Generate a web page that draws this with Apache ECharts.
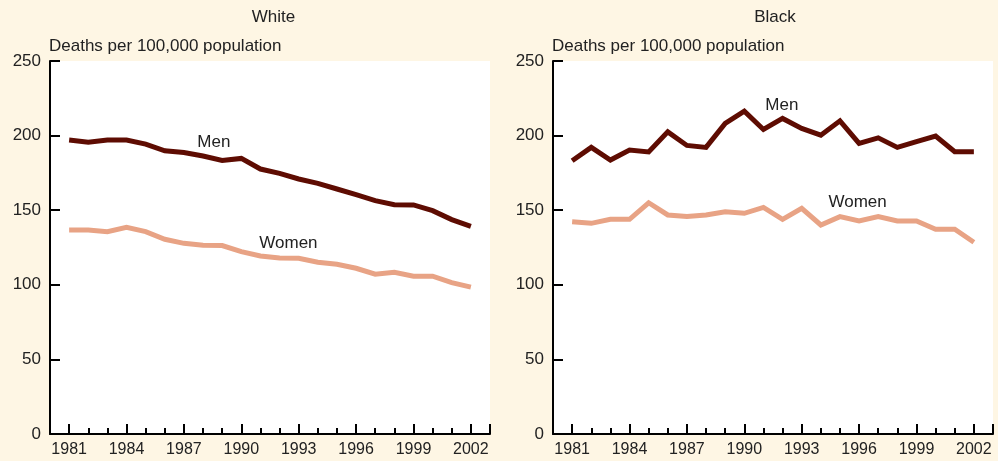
<!DOCTYPE html>
<html>
<head>
<meta charset="utf-8">
<script src="https://cdn.jsdelivr.net/npm/echarts@6/dist/echarts.min.js"></script>
<style>
html,body{margin:0;padding:0;background:#FEF6E4;}
#c{width:998px;height:461px;}
</style>
</head>
<body>
<div id="c"></div>
<script>
const years = [1981,1982,1983,1984,1985,1986,1987,1988,1989,1990,1991,1992,1993,1994,1995,1996,1997,1998,1999,2000,2001,2002];
const whiteMen   = [197,195.6,197,197,194.3,189.8,188.7,186.3,183.4,184.7,177.6,174.7,170.9,168,164.2,160.4,156.4,153.7,153.5,149.7,143.7,139.2];
const whiteWomen = [136.7,136.7,135.6,138.5,135.6,130.5,127.8,126.5,126.3,122.2,119.3,118,117.8,115.1,113.8,111.1,107.1,108.4,105.8,105.8,101.5,98.4];
const blackMen   = [183.1,192.1,183.6,190.3,189,202.5,193.4,192.1,208.2,216.4,204.1,211.5,204.8,200.3,209.9,194.8,198.5,192.1,195.9,199.7,189.2,189.2];
const blackWomen = [142.3,141.2,143.9,143.9,155,146.8,145.7,146.8,149,147.9,151.9,143.9,151.3,140.1,145.7,142.8,145.7,142.8,142.8,137.2,137.2,128.5];
const panelTitles = ['White','Black'];
const yTicks = [0,50,100,150,200,250];
const yAxisName = 'Deaths per 100,000 population';
const seriesNames = ['Men','Women'];
// label anchors in data coordinates [year, value] for each panel
const labelAnchors = [
  {men:[1987.7,195.6], women:[1990.94,127.9]},
  {men:[1991.1,220.4], women:[1994.4,155.4]}
];

const xMin = years[0]-1, xMax = years[years.length-1]+1;
const allYears = [];
for (let y = xMin; y <= xMax; y++) allYears.push(String(y));
const isMajor = y => (y >= years[0] && (y - years[0]) % 3 === 0) || y === xMax;

const FONT = 'Liberation Sans, Arial, Helvetica, sans-serif';
const TXT = '#222222';
const MEN = '#5E0C02';
const WOMEN = '#E8A385';

const grids = [
  {left:50, top:61, width:440, height:373, backgroundColor:'#FFFFFF', show:true, borderWidth:0},
  {left:553, top:61, width:440, height:373, backgroundColor:'#FFFFFF', show:true, borderWidth:0}
];

const xAxes = [], yAxes = [];
[0,1].forEach(i => {
  xAxes.push({
    type:'value', gridIndex:i, min:xMin, max:xMax, interval:1,
    axisLine:{show:true, onZero:false, lineStyle:{color:'#000', width:2}},
    axisTick:{show:true, inside:true, length:6, lineStyle:{color:'#000', width:2}},
    splitLine:{show:false},
    axisLabel:{
      margin:8, fontSize:16, color:TXT, fontFamily:FONT,
      formatter: v => (v >= years[0] && v <= years[years.length-1] && (v - years[0]) % 3 === 0) ? String(v) : ''
    }
  });
  xAxes.push({
    type:'category', gridIndex:i, data:allYears, boundaryGap:false, position:'bottom',
    axisLine:{show:false},
    axisLabel:{show:false},
    splitLine:{show:false},
    axisTick:{show:true, inside:true, length:10, lineStyle:{color:'#000', width:2},
      interval:(idx, val) => isMajor(Number(val))}
  });
  yAxes.push({
    type:'value', gridIndex:i, min:yTicks[0], max:yTicks[yTicks.length-1], interval:50,
    name:yAxisName, nameLocation:'end', nameGap:6,
    nameTextStyle:{align:'left', verticalAlign:'bottom', fontSize:17, color:TXT, fontFamily:FONT, padding:[0,0,0,-1]},
    axisLine:{show:true, lineStyle:{color:'#000', width:2}},
    axisTick:{show:true, inside:true, length:10, lineStyle:{color:'#000', width:2}},
    splitLine:{show:false},
    axisLabel:{margin:9, fontSize:17, color:TXT, fontFamily:FONT}
  });
});

const pair = arr => arr.map((v, k) => [years[k], v]);
const mk = (name, data, color, gi) => ({
  name, type:'line', xAxisIndex:gi*2, yAxisIndex:gi, data:pair(data),
  symbol:'none', silent:true,
  lineStyle:{color, width:5, join:'miter', cap:'butt'},
  z: name === 'Men' ? 3 : 2
});

const chart = echarts.init(document.getElementById('c'), null, {renderer:'canvas'});
chart.setOption({
  backgroundColor:'#FEF6E4',
  animation:false,
  grid:grids,
  xAxis:xAxes,
  yAxis:yAxes,
  series:[
    mk(seriesNames[0], whiteMen, MEN, 0),
    mk(seriesNames[1], whiteWomen, WOMEN, 0),
    mk(seriesNames[0], blackMen, MEN, 1),
    mk(seriesNames[1], blackWomen, WOMEN, 1)
  ]
});

const gfx = [];
panelTitles.forEach((t, i) => {
  gfx.push({type:'text', x: i === 0 ? 273.5 : 775, y:17, z:10,
    style:{text:t, fontSize:17, fill:TXT, fontFamily:FONT, textAlign:'center', textVerticalAlign:'middle'}});
});
labelAnchors.forEach((a, i) => {
  [['men', seriesNames[0]], ['women', seriesNames[1]]].forEach(([k, txt]) => {
    const p = chart.convertToPixel({xAxisIndex:i*2, yAxisIndex:i}, a[k]);
    gfx.push({type:'text', x:p[0], y:p[1], z:10,
      style:{text:txt, fontSize:17, fill:TXT, fontFamily:FONT, textAlign:'left', textVerticalAlign:'middle'}});
  });
});
chart.setOption({graphic:gfx});
</script>
</body>
</html>
